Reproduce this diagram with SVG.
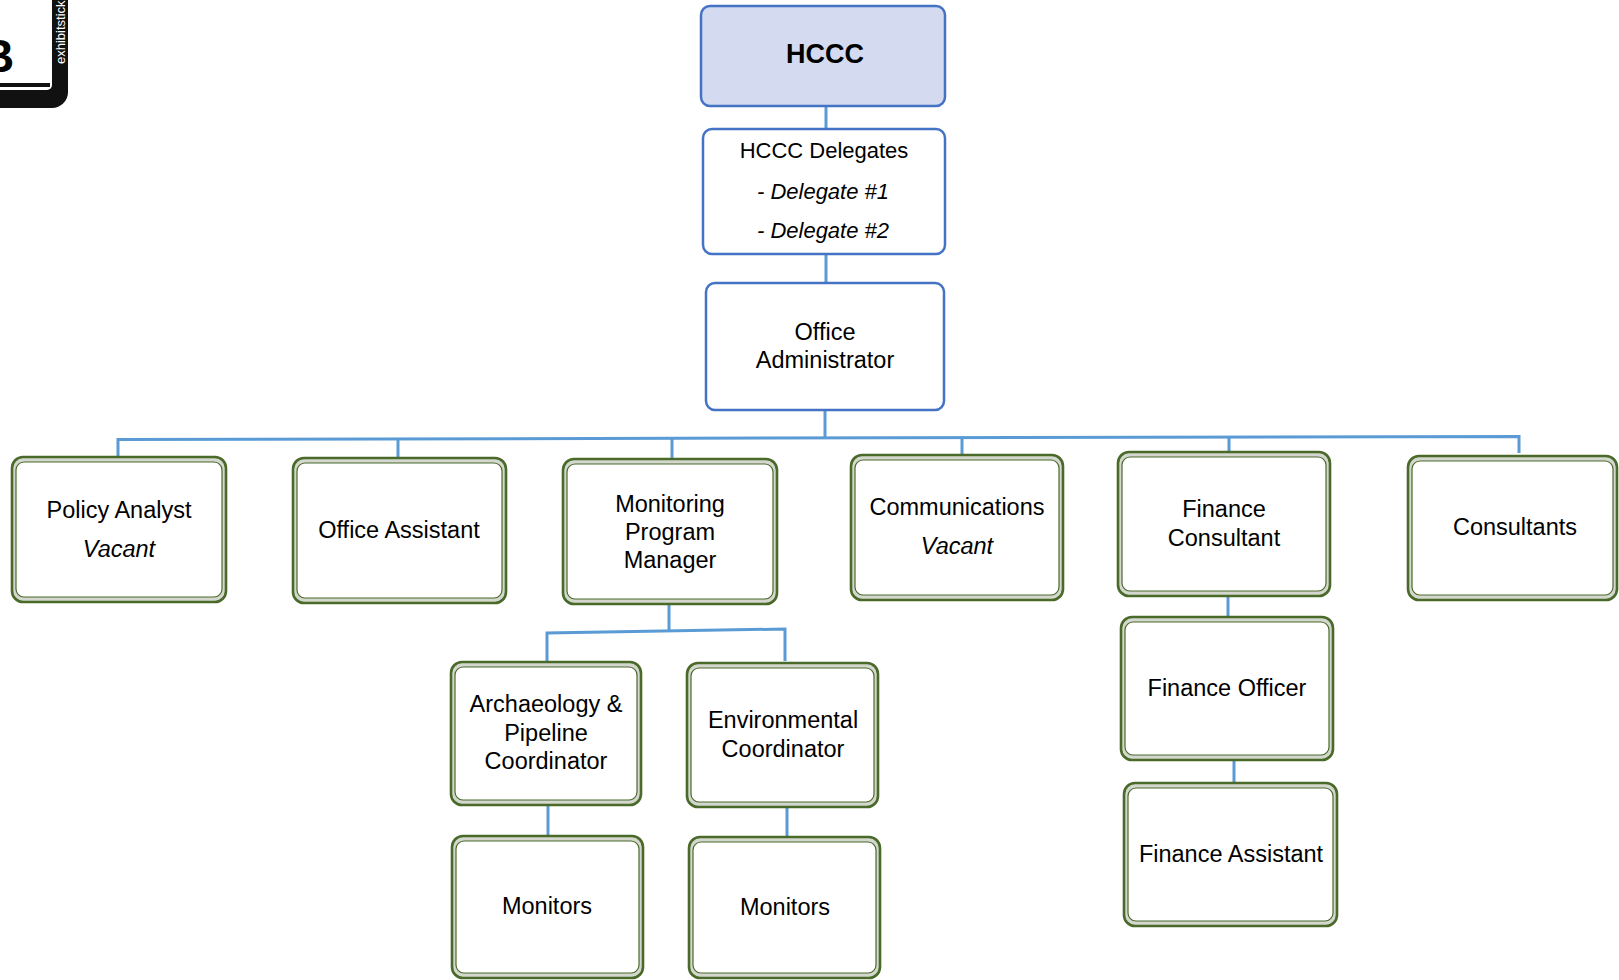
<svg xmlns="http://www.w3.org/2000/svg" width="1619" height="980" viewBox="0 0 1619 980">
<style>
  text { font-family: "Liberation Sans", Arial, sans-serif; fill: #000; text-anchor: middle; }
  .t { font-size: 23.5px; }
  .td { font-size: 22px; }
  .it { font-style: italic; }
  .blue { fill: #fff; stroke: #4472c4; stroke-width: 2.5; }
  .top { fill: #d4dbf0; stroke: #4472c4; stroke-width: 2.5; }
  .gout { fill: #d3d7cd; stroke: #4a6a2a; stroke-width: 2.6; }
  .gin { fill: #fff; stroke: #4a6a2a; stroke-width: 1.2; }
  .con { fill: none; stroke: #5b9bd5; stroke-width: 3; }
</style>

<g id="logo">
  <path d="M0,0 H68 V92 A16,16 0 0 1 52,108 H0 Z" fill="#111"/>
  <path d="M0,0 H52 V85 A5,5 0 0 1 47,90 H0 Z" fill="#fff"/>
  <rect x="0" y="83" width="50" height="4" fill="#111"/>
  <text x="-19" y="72" style="font-size:46px;font-weight:bold;text-anchor:start">B</text>
  <text transform="translate(64.5,64) rotate(-90)" style="font-size:13px;fill:#fff;text-anchor:start">exhibitstick</text>
</g>

<g id="connectors">
  <path class="con" d="M826,106 V129"/>
  <path class="con" d="M826,254 V283"/>
  <path class="con" d="M825,410 V438"/>
  <path class="con" d="M118,457 V439.5 L1519,436.5 V453"/>
  <path class="con" d="M398,439 V458"/>
  <path class="con" d="M672,438 V459"/>
  <path class="con" d="M962,437.5 V455"/>
  <path class="con" d="M1229,437 V452"/>
  <path class="con" d="M669,604 V631"/>
  <path class="con" d="M547,662 V633 L785,629 V661"/>
  <path class="con" d="M548,805 V836"/>
  <path class="con" d="M787,807 V837"/>
  <path class="con" d="M1228,596 V617"/>
  <path class="con" d="M1234,760 V783"/>
</g>

<g id="hccc">
  <rect class="top" x="701" y="6" width="244" height="100" rx="9"/>
  <text x="825" y="63" style="font-size:27px;font-weight:bold">HCCC</text>
</g>

<g id="delegates">
  <rect class="blue" x="703" y="129" width="242" height="125" rx="9"/>
  <text class="td" x="824" y="158">HCCC Delegates</text>
  <text class="td it" x="823" y="199">- Delegate #1</text>
  <text class="td it" x="823" y="238">- Delegate #2</text>
</g>

<g id="office-administrator">
  <rect class="blue" x="706" y="283" width="238" height="127" rx="9"/>
  <text class="t" x="825" y="340">Office</text>
  <text class="t" x="825" y="368">Administrator</text>
</g>

<g id="policy-analyst">
  <rect class="gout" x="12" y="457" width="214" height="145" rx="11"/>
  <rect class="gin" x="16" y="462" width="206" height="135" rx="8"/>
  <text class="t" x="119" y="518">Policy Analyst</text>
  <text class="t it" x="119" y="557">Vacant</text>
</g>

<g id="office-assistant">
  <rect class="gout" x="293" y="458" width="213" height="145" rx="11"/>
  <rect class="gin" x="297" y="463" width="205" height="135" rx="8"/>
  <text class="t" x="399" y="538">Office Assistant</text>
</g>

<g id="monitoring-program-manager">
  <rect class="gout" x="563" y="459" width="214" height="145" rx="11"/>
  <rect class="gin" x="567" y="464" width="206" height="135" rx="8"/>
  <text class="t" x="670" y="512">Monitoring</text>
  <text class="t" x="670" y="540">Program</text>
  <text class="t" x="670" y="568">Manager</text>
</g>

<g id="communications">
  <rect class="gout" x="851" y="455" width="212" height="145" rx="11"/>
  <rect class="gin" x="855" y="460" width="204" height="135" rx="8"/>
  <text class="t" x="957" y="515">Communications</text>
  <text class="t it" x="957" y="554">Vacant</text>
</g>

<g id="finance-consultant">
  <rect class="gout" x="1118" y="452" width="212" height="144" rx="11"/>
  <rect class="gin" x="1122" y="457" width="204" height="134" rx="8"/>
  <text class="t" x="1224" y="517">Finance</text>
  <text class="t" x="1224" y="546">Consultant</text>
</g>

<g id="consultants">
  <rect class="gout" x="1408" y="456" width="209" height="144" rx="11"/>
  <rect class="gin" x="1412" y="461" width="201" height="134" rx="8"/>
  <text class="t" x="1515" y="535">Consultants</text>
</g>

<g id="archaeology-pipeline-coordinator">
  <rect class="gout" x="451" y="662" width="190" height="143" rx="11"/>
  <rect class="gin" x="455" y="667" width="182" height="133" rx="8"/>
  <text class="t" x="546" y="712">Archaeology &amp;</text>
  <text class="t" x="546" y="741">Pipeline</text>
  <text class="t" x="546" y="769">Coordinator</text>
</g>

<g id="environmental-coordinator">
  <rect class="gout" x="687" y="663" width="191" height="144" rx="11"/>
  <rect class="gin" x="691" y="668" width="183" height="134" rx="8"/>
  <text class="t" x="783" y="728">Environmental</text>
  <text class="t" x="783" y="757">Coordinator</text>
</g>

<g id="monitors-1">
  <rect class="gout" x="452" y="836" width="191" height="142" rx="11"/>
  <rect class="gin" x="456" y="841" width="183" height="132" rx="8"/>
  <text class="t" x="547" y="914">Monitors</text>
</g>

<g id="monitors-2">
  <rect class="gout" x="689" y="837" width="191" height="141" rx="11"/>
  <rect class="gin" x="693" y="842" width="183" height="131" rx="8"/>
  <text class="t" x="785" y="915">Monitors</text>
</g>

<g id="finance-officer">
  <rect class="gout" x="1121" y="617" width="212" height="143" rx="11"/>
  <rect class="gin" x="1125" y="622" width="204" height="133" rx="8"/>
  <text class="t" x="1227" y="696">Finance Officer</text>
</g>

<g id="finance-assistant">
  <rect class="gout" x="1124" y="783" width="213" height="143" rx="11"/>
  <rect class="gin" x="1128" y="788" width="205" height="133" rx="8"/>
  <text class="t" x="1231" y="862">Finance Assistant</text>
</g>
</svg>
